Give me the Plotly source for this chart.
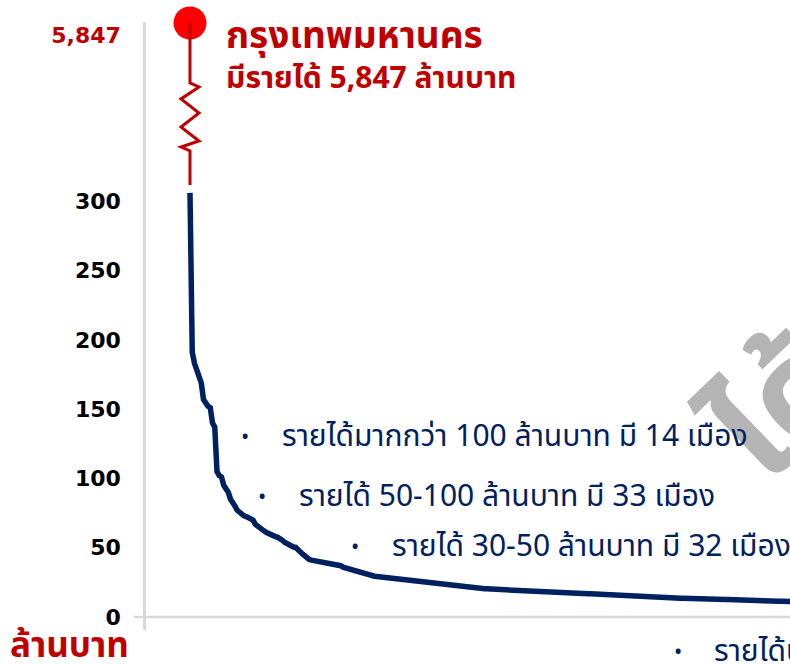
import plotly.graph_objects as go

# ---------------- data ----------------
bangkok_name = "กรุงเทพมหานคร"
bangkok_value = 5847

# municipal revenue (million baht), sorted descending, rank 2 onward
top_values = [191, 183, 178, 172, 169, 157, 154, 152, 151, 140, 137, 105, 102, 101]
mid_values = [95, 93, 90, 85, 83, 80, 77, 75.5, 74, 73, 72.5, 72, 71, 70, 67, 65.5, 64,
              63, 62, 61, 60, 59.5, 59, 58, 57.5, 57, 55.5, 54, 53, 52, 51, 50.5, 50.2]
low_values = [48, 47, 45.5, 44, 42.5, 41.5, 41, 40.7, 40.4, 40.2, 40, 39.8, 39.6, 39.4,
              39.2, 39, 38.8, 38.5, 38, 37, 36, 35.5, 35, 34, 33.5, 33, 32.5, 32, 31.5,
              31, 30.6, 30.2]
small_values = [
    29.9, 29.6, 29.4, 29.2, 29.0, 28.9, 28.7, 28.6, 28.5, 28.4,
    28.3, 28.1, 28.0, 27.8, 27.5, 27.2, 27.0, 26.8, 26.6, 26.4,
    26.2, 26.0, 25.8, 25.7, 25.5, 25.4, 25.2, 25.0, 24.9, 24.6,
    24.2, 23.9, 23.6, 23.3, 23.1, 23.0, 22.8, 22.6, 22.4, 22.2,
    22.0, 21.8, 21.6, 21.4, 21.2, 21.0, 20.9, 20.8, 20.7, 20.6,
    20.5, 20.4, 20.3, 20.2, 20.1, 20.0, 19.9, 19.8, 19.7, 19.6,
    19.5, 19.4, 19.3, 19.2, 19.1, 19.0, 18.9, 18.9, 18.8, 18.7,
    18.6, 18.6, 18.5, 18.4, 18.4, 18.3, 18.2, 18.2, 18.1, 18.0,
    18.0, 17.9, 17.8, 17.8, 17.7, 17.6, 17.5, 17.5, 17.4, 17.3,
    17.2, 17.2, 17.1, 17.0, 16.9, 16.9, 16.8, 16.7, 16.7, 16.6,
    16.5, 16.5, 16.4, 16.3, 16.3, 16.2, 16.1, 16.1, 16.0, 15.9,
    15.8, 15.7, 15.6, 15.5, 15.4, 15.3, 15.2, 15.1, 15.0, 14.9,
    14.8, 14.7, 14.6, 14.5, 14.5, 14.4, 14.3, 14.2, 14.2, 14.1,
    14.0, 14.0, 13.9, 13.9, 13.8, 13.8, 13.7, 13.7, 13.6, 13.6,
    13.5, 13.5, 13.4, 13.4, 13.3, 13.3, 13.2, 13.2, 13.1, 13.1,
    13.0, 13.0, 12.9, 12.9, 12.8, 12.8, 12.7, 12.7, 12.6, 12.6,
    12.5, 12.5, 12.4, 12.4, 12.3, 12.3, 12.2, 12.2, 12.1, 12.1,
    12.0, 12.0, 11.9, 11.9, 11.8, 11.8, 11.7, 11.7, 11.6, 11.6,
    11.5, 11.5, 11.4, 11.4, 11.3, 11.3, 11.2, 11.2, 11.1, 11.1,
]

tick_values = [0, 50, 100, 150, 200, 250, 300]
tick_labels = ["0", "50", "100", "150", "200", "250", "300"]
bangkok_label = "5,847"

bullet_texts = [
    "รายได้มากกว่า 100 ล้านบาท มี 14 เมือง",
    "รายได้ 50-100 ล้านบาท มี 33 เมือง",
    "รายได้ 30-50 ล้านบาท มี 32 เมือง",
    "รายได้น้อยกว่า 30 ล้านบาท",
]
unit_label = "ล้านบาท"
title_line1 = "กรุงเทพมหานคร"
title_line2 = "มีรายได้ 5,847 ล้านบาท"
watermark = "ได้"

# ---------------- broken-axis mapping ----------------
AXIS_CAP = 306       # line value drawn for the off-scale city
BREAK_POS = 428.6    # display position of the off-scale marker
BREAK_LABEL_POS = 420  # display position of the off-scale tick label

all_values = [bangkok_value] + top_values + mid_values + low_values + small_values
ranks = list(range(1, len(all_values) + 1))


def to_line(v):
    return v if v <= AXIS_CAP else AXIS_CAP


line_y = [to_line(v) for v in all_values]

NAVY = "#002060"
DARKRED = "#c00000"
THAI = "Noto Sans Thai, Noto Sans Thai Looped, Tahoma, Noto Sans, sans-serif"
NUMF = "DejaVu Sans, Liberation Sans, Arial, sans-serif"

fig = go.Figure()
fig.add_trace(go.Scatter(x=ranks, y=line_y, mode="lines",
                         line=dict(color=NAVY, width=5.5), hoverinfo="skip"))
fig.add_trace(go.Scatter(x=[ranks[0]], y=[BREAK_POS], mode="markers",
                         marker=dict(color="#ff0000", size=33),
                         cliponaxis=False, hoverinfo="skip"))

# red stem with zigzag break (pixel path anchored at the Bangkok marker)
fig.add_shape(type="path", xref="x", yref="y", xsizemode="pixel", ysizemode="pixel",
              xanchor=ranks[0], yanchor=BREAK_POS,
              path="M0,0 L0,-60 L9,-64 L-9,-76 L9,-90 L-9,-104 L9,-118 L-9,-124 L0,-128 L0,-162",
              line=dict(color=DARKRED, width=3))

# x-axis baseline
fig.add_shape(type="line", xref="paper", yref="y", x0=-12 / 644, x1=1, y0=0, y1=0,
              line=dict(color="#d9d9d9", width=2.5))

ann = []
ann.append(dict(x=784, y=410, text=f"<b>{watermark}</b>", showarrow=False, xanchor="center",
                yanchor="middle", textangle=-44, font=dict(family=THAI, size=140, color="#b4b4b4")))
ann.append(dict(x=224, y=37, text=f"<b>{title_line1}</b>", showarrow=False,
                xanchor="left", yanchor="middle", font=dict(family=THAI, size=37, color=DARKRED)))
ann.append(dict(x=224, y=79, text=f"<b>{title_line2}</b>", showarrow=False,
                xanchor="left", yanchor="middle", font=dict(family=THAI, size=30, color=DARKRED)))
bullet_pos = [(245, 280, 437), (262, 297, 497), (355, 390, 547), (678, 712, 652)]
for (bx, tx, ty), t in zip(bullet_pos, bullet_texts):
    ann.append(dict(x=bx, y=ty, text="•", showarrow=False, xanchor="center", yanchor="middle",
                    font=dict(family=THAI, size=22, color=NAVY)))
    ann.append(dict(x=tx, y=ty, text=t, showarrow=False, xanchor="left", yanchor="middle",
                    font=dict(family=THAI, size=30, color=NAVY)))
ann.append(dict(x=8, y=646, text=f"<b>{unit_label}</b>", showarrow=False, xanchor="left",
                yanchor="middle", font=dict(family=THAI, size=35, color=DARKRED)))

# convert pixel positions to paper coordinates
W, H = 790, 665
L, R, T, B = 146, 0, 22, 35
pw, ph = W - L - R, H - T - B
for a in ann:
    a["xref"] = "paper"
    a["yref"] = "paper"
    a["x"] = (a["x"] - L) / pw
    a["y"] = (H - B - a["y"]) / ph

fig.update_layout(
    width=W, height=H, margin=dict(l=L, r=R, t=T, b=B),
    paper_bgcolor="white", plot_bgcolor="white", showlegend=False,
    annotations=ann,
    xaxis=dict(range=[1 - 44 / 2.25, 1 - 44 / 2.25 + pw / 2.25], showgrid=False,
               zeroline=False, showticklabels=False, showline=False),
    yaxis=dict(range=[-13 / 1.386, -13 / 1.386 + ph / 1.386], showgrid=False, zeroline=False,
               showline=True, linecolor="#d9d9d9", linewidth=2.5,
               tickvals=tick_values + [BREAK_LABEL_POS],
               ticktext=[f"<b>{t}</b>" for t in tick_labels]
               + [f"<b><span style='color:{DARKRED}'>{bangkok_label}</span></b>"],
               tickfont=dict(family=NUMF, size=22, color="black"),
               ticks="", ticklabelstandoff=18),
)

fig.write_html("out.html", config={"displayModeBar": False},
               post_script="document.body.style.margin='0';document.body.style.overflow='hidden';")
